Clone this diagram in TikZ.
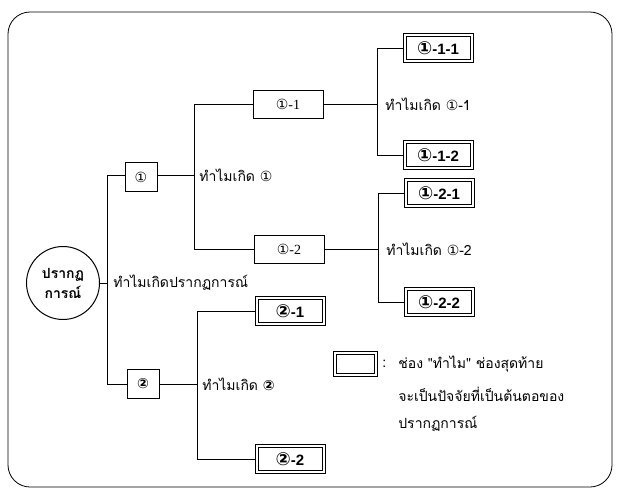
\documentclass[tikz,border=0pt]{standalone}
\usepackage{fontspec}
\setmainfont{Liberation Serif}
\newfontfamily\thai[Script=Thai]{Loma}
\newfontfamily\djvu{DejaVu Sans}
\newfontfamily\lsans{Liberation Sans}
\newcommand{\ca}{{\djvu ①}}
\newcommand{\cbig}[1]{{\djvu\fontsize{18}{18}\selectfont #1}}
\begin{document}
\begin{tikzpicture}[x=1pt,y=-1pt,line width=0.7pt,
  frame/.style={draw,rounded corners=22pt,line width=0.8pt},
  rootnode/.style={draw,circle,minimum size=73pt,inner sep=0pt,line width=1pt,align=center,font=\thai\bfseries\fontsize{14}{20}\selectfont},
  smallbox/.style={draw,minimum width=32pt,minimum height=29pt,inner sep=0pt,font=\fontsize{14}{15}\selectfont},
  midbox/.style={draw,minimum width=70pt,minimum height=28pt,inner sep=0pt,font=\fontsize{14}{15}\selectfont},
  innerframe/.style={path picture={\draw ([shift={(3pt,-3pt)}]path picture bounding box.north west) rectangle ([shift={(-3pt,3pt)}]path picture bounding box.south east);}},
  finalbox/.style={draw,innerframe,minimum width=70pt,minimum height=29pt,inner sep=0pt,font=\lsans\bfseries\fontsize{15}{17}\selectfont},
  legendbox/.style={draw,innerframe,minimum width=44pt,minimum height=25pt,inner sep=0pt},
  why/.style={anchor=west,inner sep=0pt,font=\thai\fontsize{14}{16}\selectfont},
  legtext/.style={anchor=west,inner sep=0pt,font=\thai\fontsize{14}{16}\selectfont}
]
\useasboundingbox (0,0) rectangle (618,491);
\draw[frame] (8,12) rectangle (612,487);

% root
\node[rootnode] (root) at (63,283) {ปรากฏ\\การณ์};
\coordinate (tr1) at (107,175);
\coordinate (tr2) at (107,384);
\node[why] (wroot) at (113,283) {ทำไมเกิดปรากฏการณ์};

% level 1
\node[smallbox] (b1) at (141,177) {\ca};
\node[smallbox] (b2) at (143,384) {{\djvu\bfseries ②}};
\draw (root.east) -- (root.east -| tr1);
\draw (b1.west |- tr1) -- (tr1) -- (tr2) -- (b2.west);

% branch 1
\coordinate (v1) at (194,175);
\coordinate (v1a) at (194,104);
\coordinate (v1b) at (194,249);
\node[why] (w1) at (199,175) {ทำไมเกิด \ca};
\node[midbox] (b11) at (288,104) {\ca-1};
\node[midbox] (b12) at (289,249) {\ca-2};
\draw (b1.east |- v1) -- (v1);
\draw (b11.west) -- (v1a) -- (v1b) -- (b12.west);

% branch 1-1
\coordinate (v11) at (377,104);
\coordinate (v11a) at (377,48);
\coordinate (v11b) at (377,155);
\node[why] (w11) at (385,104) {ทำไมเกิด \ca-1};
\node[finalbox] (b111) at (438,48) {\cbig{①}-1-1};
\node[finalbox] (b112) at (438,155) {\cbig{①}-1-2};
\draw (b11.east) -- (v11);
\draw (b111.west) -- (v11a) -- (v11b) -- (b112.west);

% branch 1-2
\coordinate (v12) at (378,249);
\coordinate (v12a) at (378,193);
\coordinate (v12b) at (378,302);
\node[why] (w12) at (386,249) {ทำไมเกิด \ca-2};
\node[finalbox] (b121) at (439,193) {\cbig{①}-2-1};
\node[finalbox] (b122) at (439,302) {\cbig{①}-2-2};
\draw (b12.east) -- (v12);
\draw (b121.west) -- (v12a) -- (v12b) -- (b122.west);

% branch 2
\coordinate (v2) at (197,384);
\coordinate (v2a) at (197,311);
\coordinate (v2b) at (197,459);
\node[why] (w2) at (202,384) {ทำไมเกิด {\djvu\bfseries ②}};
\node[finalbox] (b21) at (290,311) {\cbig{②}-1};
\node[finalbox] (b22) at (290,459) {\cbig{②}-2};
\draw (b2.east) -- (v2);
\draw (b21.west) -- (v2a) -- (v2b) -- (b22.west);

% legend
\node[legendbox] (leg) at (355,364) {};
\node[legtext] (colon) at (382,364) {:};
\node[legtext] (l1) at (398,364) {ช่อง "ทำไม" ช่องสุดท้าย};
\node[legtext] (l2) at (398,394) {จะเป็นปัจจัยที่เป็นต้นตอของ};
\node[legtext] (l3) at (398,424) {ปรากฏการณ์};
\end{tikzpicture}
\end{document}
